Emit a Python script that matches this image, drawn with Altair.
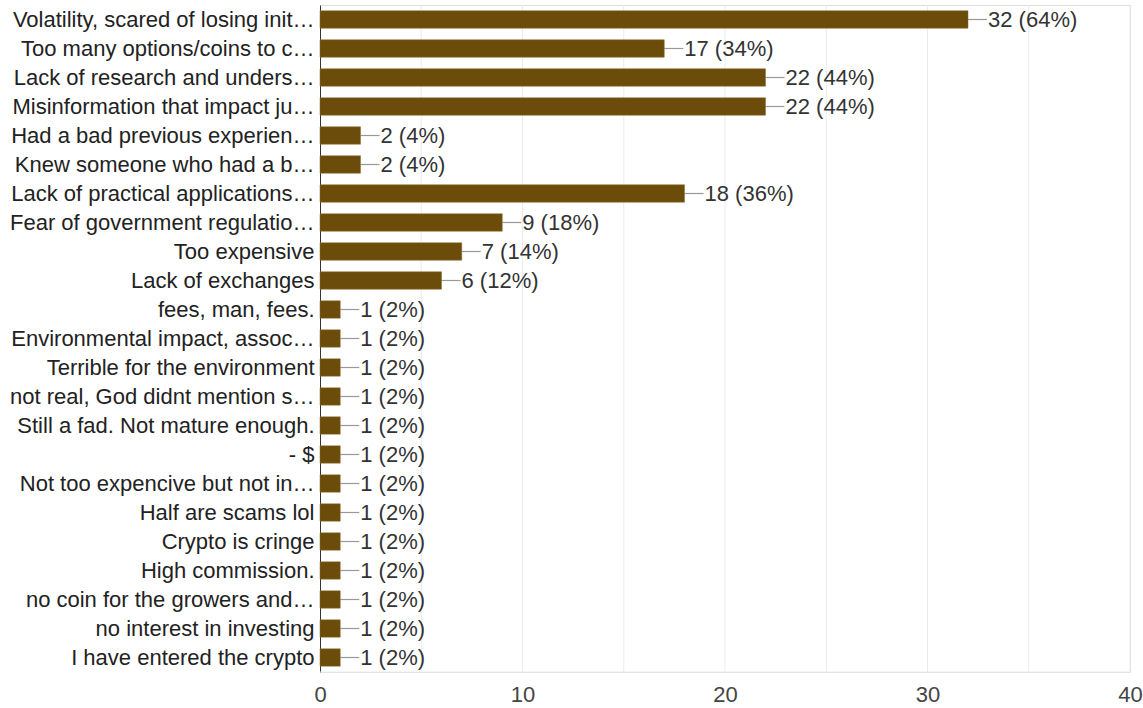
import altair as alt
import pandas as pd

categories = [
    "Volatility, scared of losing init\u2026",
    "Too many options/coins to c\u2026",
    "Lack of research and unders\u2026",
    "Misinformation that impact ju\u2026",
    "Had a bad previous experien\u2026",
    "Knew someone who had a b\u2026",
    "Lack of practical applications\u2026",
    "Fear of government regulatio\u2026",
    "Too expensive",
    "Lack of exchanges",
    "fees, man, fees.",
    "Environmental impact, assoc\u2026",
    "Terrible for the environment",
    "not real, God didnt mention s\u2026",
    "Still a fad. Not mature enough.",
    "- $",
    "Not too expencive but not in\u2026",
    "Half are scams lol",
    "Crypto is cringe",
    "High commission.",
    "no coin for the growers and\u2026",
    "no interest in investing",
    "I have entered the crypto",
]
counts = [32, 17, 22, 22, 2, 2, 18, 9, 7, 6, 1, 1, 1, 1, 1, 1, 1, 1, 1, 1, 1, 1, 1]
percents = [64, 34, 44, 44, 4, 4, 36, 18, 14, 12, 2, 2, 2, 2, 2, 2, 2, 2, 2, 2, 2, 2, 2]

df = pd.DataFrame({
    "cat": categories,
    "count": counts,
    "label": [f"{c} ({p}%)" for c, p in zip(counts, percents)],
})

FONT = "Liberation Sans"
FS = 22
y_enc = alt.Y("cat:N", sort=categories, title=None,
              scale=alt.Scale(paddingInner=0.4, paddingOuter=0.2),
              axis=alt.Axis(labelFont=FONT, labelFontSize=FS, labelColor="#222222",
                            labelLimit=0, labelPadding=6, ticks=False,
                            domainColor="#333333", domainWidth=1, grid=False))
x_enc = alt.X("count:Q", title=None,
              scale=alt.Scale(domain=[0, 40], nice=False),
              axis=alt.Axis(values=[0, 10, 20, 30, 40], labelFont=FONT, labelFontSize=FS,
                            labelColor="#444444", labelPadding=12, ticks=False,
                            labelFlush=False, domain=False, grid=False))

base = alt.Chart(df)

grid = alt.Chart(pd.DataFrame({"g": [5, 10, 15, 20, 25, 30, 35, 40]})).mark_rule(
    color="#ebebeb", strokeWidth=1
).encode(x=alt.X("g:Q", scale=alt.Scale(domain=[0, 40], nice=False)))

bottom = alt.Chart(pd.DataFrame({"g": [0]})).mark_rule(color="#ebebeb").encode(
    x=alt.value(0), x2=alt.value(810), y=alt.value(667)
)

bars = base.mark_bar(color="#6b4c0b", stroke="#8a6a2a", strokeWidth=0.5).encode(
    x=x_enc, y=y_enc
)

connectors = base.mark_rule(color="#999999", strokeWidth=1.2, x2Offset=19).encode(
    x="count:Q", x2="count:Q", y=alt.Y("cat:N", sort=categories)
)

texts = base.mark_text(align="left", baseline="middle", dx=20, font=FONT,
                       fontSize=FS, color="#333333").encode(
    x="count:Q", y=alt.Y("cat:N", sort=categories), text="label:N"
)

chart = alt.layer(grid, bottom, connectors, bars, texts).properties(
    width=810, height=667,
    padding={"left": 320, "top": 5, "right": 13, "bottom": 36},
    autosize=alt.AutoSizeParams(type="none"),
).configure_view(stroke=None).configure(background="white")

chart.save("out.html", embed_options={"renderer": "svg", "actions": False})
